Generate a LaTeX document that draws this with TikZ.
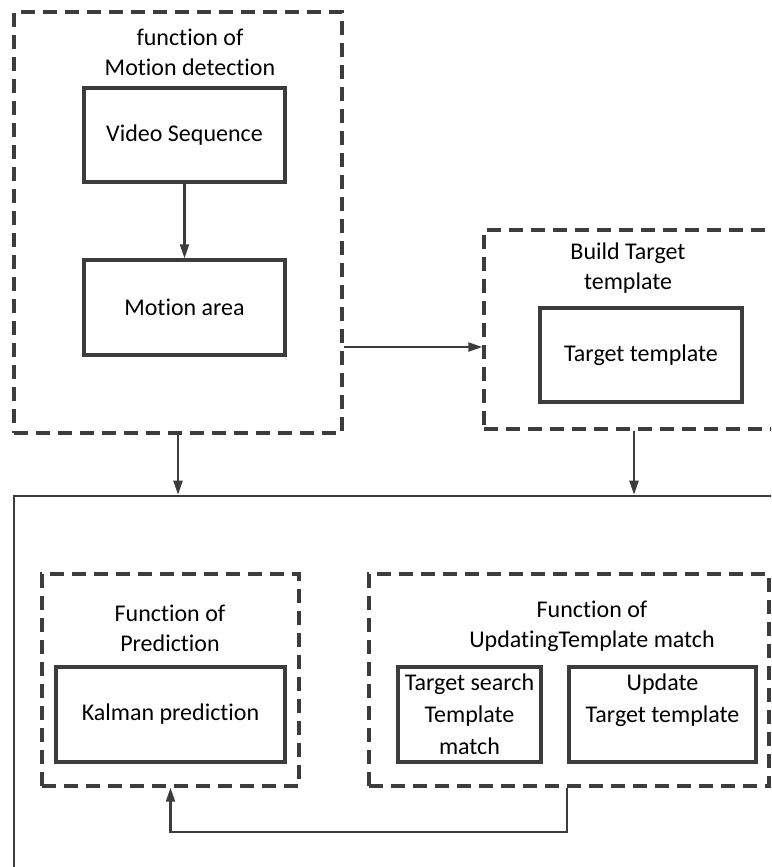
\documentclass[tikz,border=0pt]{standalone}
\usepackage{fontspec}
\setmainfont[RawFeature={-liga;-clig;-calt;-dlig;-rlig}]{Carlito}
\usetikzlibrary{arrows.meta,calc}
\definecolor{linegray}{HTML}{3C3C3C}
\tikzset{
  frame/.style={draw=linegray, line width=1.7pt, dash pattern=on 7pt off 4pt, inner sep=0pt},
  block/.style={draw=linegray, line width=1.7pt, align=center, inner sep=1pt},
  title/.style={align=center, inner sep=0pt},
  link/.style={draw=linegray, line width=1.1pt, -{Triangle[length=7pt,width=4.5pt]}},
  every node/.style={font=\fontsize{12}{15}\selectfont}
}
\begin{document}
\begin{tikzpicture}[x=0.5pt,y=-0.5pt]
\useasboundingbox (0,0) rectangle (771,867);
\clip (0,0) rectangle (771,867);
\node[frame, minimum width=164pt, minimum height=210.5pt] (motion) at (178,222.5) {};
\node[title] (motiontitle) at (190,52) {function of\\Motion detection};
\node[block, minimum width=100.5pt, minimum height=47pt] (video) at (184.5,135) {Video Sequence};
\node[block, minimum width=100.5pt, minimum height=47.5pt] (area) at (184.5,307.5) {Motion area};
\node[frame, minimum width=158pt, minimum height=99.5pt] (build) at (642,329.5) {};
\node[title] (buildtitle) at (628,268) {Build Target\\template};
\node[block, minimum width=101pt, minimum height=47pt] (target) at (641,355) {Target template};
\node[draw=linegray, line width=1.3pt, minimum width=393pt, minimum height=202pt, inner sep=0pt] (main) at (407,698) {};
\node[frame, minimum width=128.5pt, minimum height=106pt] (predict) at (170.5,680) {};
\node[title] (predicttitle) at (170,628) {Function of\\Prediction};
\node[block, minimum width=114.5pt, minimum height=47.5pt] (kalman) at (170.5,714.5) {Kalman prediction};
\node[frame, minimum width=200pt, minimum height=106pt] (update) at (569,680) {};
\node[title] (updatetitle) at (592,626) {Function of\\UpdatingTemplate match};
\node[block, minimum width=71.5pt, minimum height=47.5pt, font=\fontsize{12}{16}\selectfont] (search) at (469.5,714.5) {Target search\\Template\\match};
\node[block, minimum width=93.5pt, minimum height=47.5pt, font=\fontsize{12}{16}\selectfont] (renew) at (662.5,714.5) {Update\\Target template\\\mbox{}};
\coordinate (m1) at (0,347);
\coordinate (b1) at (634,0);
\draw[link] (video) -- (area);
\draw[link] (motion.east |- m1) -- (build.west |- m1);
\draw[link] (motion.south) -- (motion.south |- main.north);
\draw[link] (b1 |- build.south) -- (b1 |- main.north);
\draw[link] (renew.west |- update.south) -- ++(0,44) -| (predict.south);
\end{tikzpicture}
\end{document}
